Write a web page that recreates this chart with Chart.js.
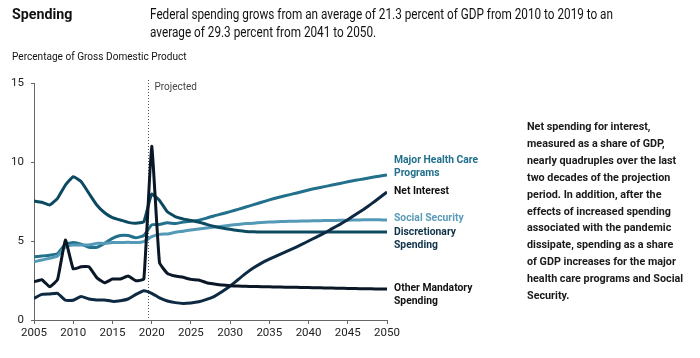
<!DOCTYPE html>
<html>
<head>
<meta charset="utf-8">
<script src="https://cdn.jsdelivr.net/npm/chart.js@4.4.1/dist/chart.umd.min.js"></script>
<style>
  html, body { margin: 0; padding: 0; background: #fff; }
  #wrap { position: relative; width: 700px; height: 358px; font-family: Roboto, "Noto Sans", sans-serif; color: #111; }
  #chart { position: absolute; left: 0; top: 0; }
  .abs { position: absolute; white-space: nowrap; transform-origin: left top; }
  #title { left: 12px; top: 5px; font-size: 15px; font-weight: bold; transform: scaleX(0.95); }
  #subtitle { left: 150px; top: 5px; font-size: 14px; line-height: 18px; transform: scaleX(0.84); }
  #unit { left: 12px; top: 50px; font-size: 10.5px; transform: scaleX(0.96); }
  #note { left: 527px; top: 119px; font-size: 11px; font-weight: bold; line-height: 16.9px; color: #1a1a1a; transform: scaleX(0.98); }
  .lbl { position: absolute; left: 394px; font-size: 11.5px; font-weight: bold; line-height: 12.5px; white-space: nowrap; transform-origin: left top; transform: scaleX(0.9); }
</style>
</head>
<body>
<div id="wrap">
  <canvas id="chart" width="700" height="358"></canvas>
  <div id="title" class="abs">Spending</div>
  <div id="subtitle" class="abs">Federal spending grows from an average of 21.3 percent of GDP from 2010 to 2019 to an<br>average of 29.3 percent from 2041 to 2050.</div>
  <div id="unit" class="abs">Percentage of Gross Domestic Product</div>
  <div id="note" class="abs">Net spending for interest,<br>measured as a share of GDP,<br>nearly quadruples over the last<br>two decades of the projection<br>period. In addition, after the<br>effects of increased spending<br>associated with the pandemic<br>dissipate, spending as a share<br>of GDP increases for the major<br>health care programs and Social<br>Security.</div>
  <div class="lbl" style="top:153px;color:#23708c">Major Health Care<br>Programs</div>
  <div class="lbl" style="top:184px;color:#111">Net Interest</div>
  <div class="lbl" style="top:211px;color:#5a9bb8">Social Security</div>
  <div class="lbl" style="top:225px;color:#0f3349">Discretionary<br>Spending</div>
  <div class="lbl" style="top:281px;color:#111">Other Mandatory<br>Spending</div>
</div>
<script>
const years = [];
for (let y = 2005; y <= 2050; y++) years.push(y);

const healthCare = [4.0, 4.05, 4.1, 4.2, 4.8, 4.9, 4.8, 4.6, 4.6, 4.85, 5.17, 5.35, 5.35, 5.2, 5.35,
  6.02, 6.05, 6.16, 6.1, 6.2, 6.25, 6.32, 6.45, 6.6, 6.72, 6.86, 7.0, 7.15, 7.3, 7.45,
  7.6, 7.74, 7.86, 7.98, 8.1, 8.23, 8.34, 8.44, 8.54, 8.64, 8.75, 8.84, 8.93, 9.02, 9.1, 9.18];
const netInterest = [1.37, 1.62, 1.65, 1.69, 1.25, 1.25, 1.48, 1.33, 1.27, 1.27, 1.18, 1.22, 1.33, 1.62, 1.85,
  1.69, 1.4, 1.2, 1.1, 1.05, 1.08, 1.15, 1.3, 1.5, 1.8, 2.15, 2.55, 2.95, 3.3, 3.6,
  3.85, 4.08, 4.3, 4.52, 4.75, 5.0, 5.25, 5.5, 5.78, 6.05, 6.35, 6.68, 7.0, 7.35, 7.72, 8.1];
const socialSecurity = [3.68, 3.8, 3.9, 4.05, 4.64, 4.75, 4.75, 4.75, 4.85, 4.85, 4.9, 4.9, 4.92, 4.9, 4.96,
  5.27, 5.42, 5.45, 5.55, 5.62, 5.7, 5.76, 5.82, 5.88, 5.94, 6.0, 6.05, 6.1, 6.13, 6.17,
  6.2, 6.22, 6.24, 6.25, 6.26, 6.27, 6.28, 6.29, 6.3, 6.31, 6.32, 6.33, 6.34, 6.35, 6.34, 6.33];
const discretionary = [7.53, 7.45, 7.28, 7.7, 8.54, 9.07, 8.76, 8.02, 7.28, 6.79, 6.48, 6.33, 6.18, 6.12, 6.22,
  7.97, 7.57, 6.85, 6.55, 6.4, 6.3, 6.2, 6.05, 5.92, 5.82, 5.74, 5.66, 5.6, 5.58, 5.57,
  5.57, 5.57, 5.57, 5.57, 5.57, 5.57, 5.57, 5.57, 5.57, 5.57, 5.57, 5.57, 5.57, 5.57, 5.57, 5.57];
const otherMandatory = [2.42, 2.55, 2.1, 2.56, 5.06, 3.23, 3.37, 3.37, 2.68, 2.36, 2.59, 2.59, 2.78, 2.48, 2.59,
  11.0, 3.63, 2.95, 2.78, 2.7, 2.57, 2.53, 2.36, 2.28, 2.21, 2.17, 2.15, 2.13, 2.12, 2.11,
  2.1, 2.09, 2.08, 2.07, 2.06, 2.05, 2.04, 2.03, 2.02, 2.01, 2.0, 1.99, 1.98, 1.97, 1.96, 1.96];

const xTicks = [2005, 2010, 2015, 2020, 2025, 2030, 2035, 2040, 2045, 2050];
const yTicks = [0, 5, 10, 15];
const projectedYear = 2019.5;

function toPoints(values) {
  return values.map((v, i) => ({ x: years[i], y: v }));
}

function series(label, values, color) {
  return {
    label: label,
    data: toPoints(values),
    borderColor: color,
    borderWidth: 3,
    pointRadius: 0,
    tension: 0.12,
    fill: false
  };
}

// dotted "Projected" divider
const projectedLine = {
  id: 'projectedLine',
  beforeDatasetsDraw(chart) {
    const ctx = chart.ctx;
    const x = Math.round(chart.scales.x.getPixelForValue(projectedYear)) + 0.5;
    ctx.save();
    ctx.strokeStyle = '#555';
    ctx.lineWidth = 1;
    ctx.setLineDash([1, 2]);
    ctx.beginPath();
    ctx.moveTo(x, chart.chartArea.top - 3);
    ctx.lineTo(x, chart.chartArea.bottom);
    ctx.stroke();
    ctx.setLineDash([]);
    ctx.fillStyle = '#444';
    ctx.font = '10px Roboto, "Noto Sans", sans-serif';
    ctx.textBaseline = 'middle';
    ctx.fillText('Projected', x + 6, chart.chartArea.top + 4);
    ctx.restore();
  }
};

new Chart(document.getElementById('chart'), {
  type: 'line',
  data: {
    datasets: [
      series('Other Mandatory Spending', otherMandatory, '#0a1726'),
      series('Net Interest', netInterest, '#0d2a42'),
      series('Discretionary Spending', discretionary, '#0c4a62'),
      series('Social Security', socialSecurity, '#5499b6'),
      series('Major Health Care Programs', healthCare, '#22708b')
    ]
  },
  options: {
    responsive: false,
    animation: false,
    layout: { padding: { left: 0, top: 83, right: 313, bottom: 0 } },
    plugins: { legend: { display: false }, tooltip: { enabled: false } },
    scales: {
      x: {
        type: 'linear',
        min: 2005,
        max: 2050,
        afterFit(scale) { scale.height = 38; },
        afterBuildTicks(scale) { scale.ticks = xTicks.map(v => ({ value: v })); },
        grid: { drawOnChartArea: false, drawTicks: true, tickLength: 4, tickColor: '#666' },
        border: { color: '#666', width: 1 },
        ticks: {
          padding: 2,
          maxRotation: 0,
          color: '#222',
          font: { family: 'Roboto, "Noto Sans", sans-serif', size: 11.5 },
          callback: v => String(v)
        }
      },
      y: {
        min: 0,
        max: 15,
        afterFit(scale) { scale.width = 34; },
        afterBuildTicks(scale) { scale.ticks = yTicks.map(v => ({ value: v })); },
        grid: { drawOnChartArea: false, drawTicks: true, tickLength: 3, tickColor: '#666' },
        border: { color: '#666', width: 1 },
        ticks: {
          padding: 7,
          color: '#222',
          font: { family: 'Roboto, "Noto Sans", sans-serif', size: 11.5 }
        }
      }
    }
  },
  plugins: [projectedLine]
});
</script>
</body>
</html>
